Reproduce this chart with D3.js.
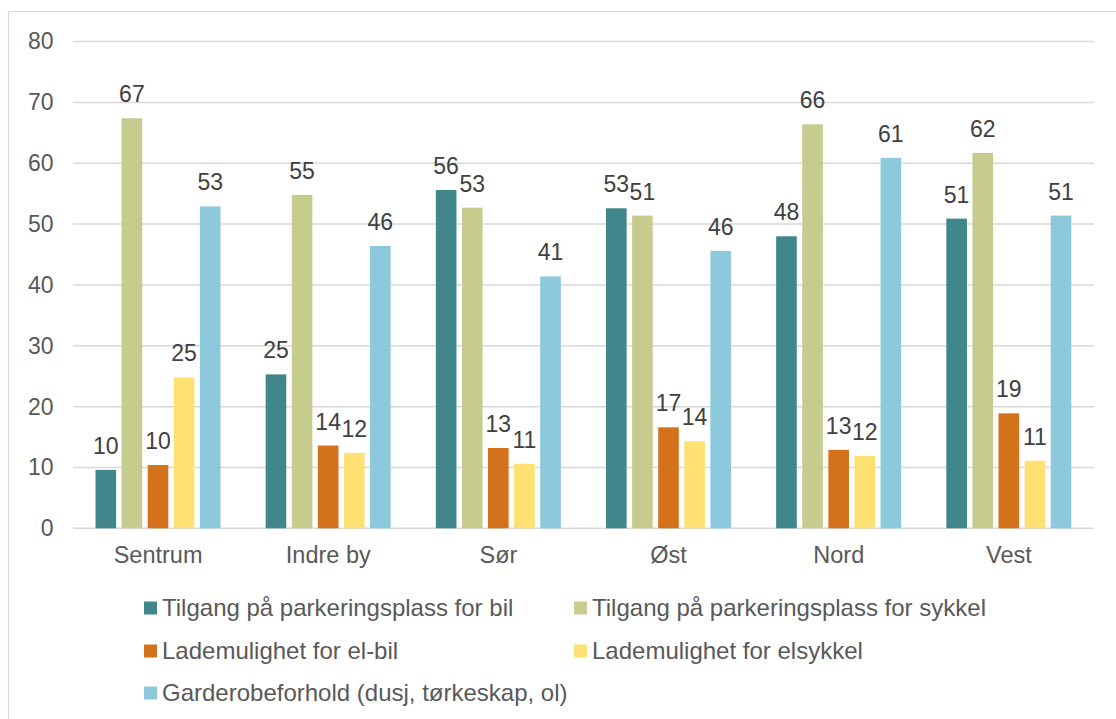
<!DOCTYPE html>
<html>
<head>
<meta charset="utf-8">
<script src="https://cdn.jsdelivr.net/npm/d3@7"></script>
<style>
  body { margin: 0; background: #fff; }
  text { font-family: "Liberation Sans", Arial, sans-serif; }
</style>
</head>
<body>
<svg id="chart" width="1116" height="719"></svg>
<script>
// categories and series
var regions = ["Sentrum", "Indre by", "Sør", "Øst", "Nord", "Vest"];
var seriesNames = [
  "Tilgang på parkeringsplass for bil",
  "Tilgang på parkeringsplass for sykkel",
  "Lademulighet for el-bil",
  "Lademulighet for elsykkel",
  "Garderobeforhold (dusj, tørkeskap, ol)"
];
var parkBil = [9.6, 25.3, 55.6, 52.6, 48.0, 50.9];
var parkSykkel = [67.4, 54.8, 52.7, 51.4, 66.4, 61.7];
var ladeElbil = [10.4, 13.6, 13.2, 16.6, 12.9, 18.9];
var ladeElsykkel = [24.8, 12.4, 10.6, 14.3, 11.9, 11.1];
var garderobe = [52.9, 46.4, 41.4, 45.6, 60.9, 51.4];
var yTicks = [0, 10, 20, 30, 40, 50, 60, 70, 80];

var seriesValues = [parkBil, parkSykkel, ladeElbil, ladeElsykkel, garderobe];
var colors = ["#41868a", "#c6cc8e", "#d4721c", "#ffe072", "#8cc9dc"];

var svg = d3.select("#chart");

// frame
svg.append("path")
  .attr("d", "M8.5,719 V11.5 H1116")
  .attr("fill", "none")
  .attr("stroke", "#d9d9d9")
  .attr("stroke-width", 1.2);

// plot area
var plotLeft = 73, plotRight = 1094, plotTop = 41.6, plotBottom = 528.3;

var x0 = d3.scaleBand()
  .domain(regions)
  .range([plotLeft, plotRight]);

var x1 = d3.scaleBand()
  .domain(d3.range(seriesNames.length))
  .range([22.5, 147.5])
  .paddingInner(0.21);

var y = d3.scaleLinear()
  .domain([0, 80])
  .range([plotBottom, plotTop]);

var color = d3.scaleOrdinal()
  .domain(d3.range(seriesNames.length))
  .range(colors);

// gridlines
svg.append("g")
  .selectAll("line")
  .data(yTicks)
  .enter()
  .append("line")
  .attr("x1", plotLeft)
  .attr("x2", plotRight)
  .attr("y1", function(d) { return y(d); })
  .attr("y2", function(d) { return y(d); })
  .attr("stroke", "#d9d9d9")
  .attr("stroke-width", 1.5);

// y tick labels
var yAxis = d3.axisLeft(y)
  .tickValues(yTicks)
  .tickSize(0)
  .tickPadding(20);

svg.append("g")
  .attr("transform", "translate(" + (plotLeft + 0.5) + ",0)")
  .call(yAxis)
  .call(function(g) { g.select(".domain").remove(); })
  .selectAll("text")
  .attr("font-family", "Liberation Sans, Arial, sans-serif")
  .attr("font-size", 23)
  .attr("fill", "#595959");

// x category labels
var xAxis = d3.axisBottom(x0)
  .tickSize(0)
  .tickPadding(18);

svg.append("g")
  .attr("transform", "translate(0," + plotBottom + ")")
  .call(xAxis)
  .call(function(g) { g.select(".domain").remove(); })
  .selectAll("text")
  .attr("font-family", "Liberation Sans, Arial, sans-serif")
  .attr("font-size", 23.5)
  .attr("fill", "#595959");

// bars
var groups = svg.append("g")
  .selectAll("g")
  .data(regions)
  .enter()
  .append("g")
  .attr("transform", function(d) { return "translate(" + x0(d) + ",0)"; });

var cells = groups.selectAll("g")
  .data(function(d, i) {
    return seriesValues.map(function(vals, s) { return {s: s, v: vals[i]}; });
  })
  .enter()
  .append("g");

cells.append("rect")
  .attr("x", function(d) { return x1(d.s); })
  .attr("y", function(d) { return y(d.v); })
  .attr("width", x1.bandwidth())
  .attr("height", function(d) { return y(0) - y(d.v); })
  .attr("fill", function(d) { return color(d.s); });

// data labels
cells.append("text")
  .attr("x", function(d) { return x1(d.s) + x1.bandwidth() / 2; })
  .attr("y", function(d) { return y(d.v) - 16; })
  .attr("text-anchor", "middle")
  .attr("font-size", 23)
  .attr("fill", "#404040")
  .text(function(d) { return d3.format(".0f")(d.v); });

// legend
var legendRows = [608, 651, 693];

var legend = svg.append("g")
  .selectAll("g")
  .data(seriesNames)
  .enter()
  .append("g")
  .attr("transform", function(d, i) {
    return "translate(" + (144 + (i % 2) * 430) + "," + legendRows[Math.floor(i / 2)] + ")";
  });

legend.append("rect")
  .attr("x", 0)
  .attr("y", -6.5)
  .attr("width", 13)
  .attr("height", 13)
  .attr("fill", function(d, i) { return color(i); });

legend.append("text")
  .attr("x", 18)
  .attr("y", 0)
  .attr("dy", "0.35em")
  .attr("font-size", 24)
  .attr("fill", "#595959")
  .text(function(d) { return d; });
</script>
</body>
</html>
